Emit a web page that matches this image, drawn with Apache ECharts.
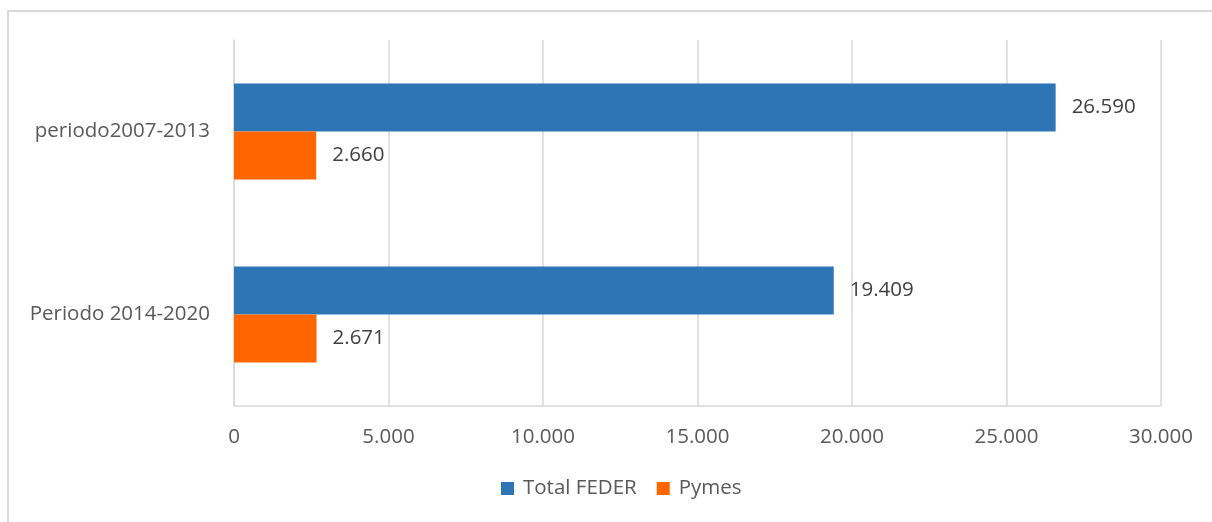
<!DOCTYPE html>
<html>
<head>
<meta charset="utf-8">
<script src="https://cdn.jsdelivr.net/npm/echarts@6/dist/echarts.min.js"></script>
<style>
  html, body { margin: 0; padding: 0; background: #fff; }
  #wrap { position: relative; width: 1212px; height: 522px; }
  #frame { position: absolute; left: 7px; top: 10px; width: 1205px; height: 512px;
           border-left: 2px solid #d9d9d9; border-top: 2px solid #d9d9d9; box-sizing: border-box; }
  #main { position: absolute; left: 0; top: 0; width: 1212px; height: 522px; }
</style>
</head>
<body>
<div id="wrap">
  <div id="frame"></div>
  <div id="main"></div>
</div>
<script>
// categorias (de arriba a abajo)
const periodos = ['periodo2007-2013', 'Periodo 2014-2020'];
const totalFeder = [26590, 19409];
const pymes = [2660, 2671];
const xTicks = [0, 5000, 10000, 15000, 20000, 25000, 30000];

const fmt = v => String(v).replace(/\B(?=(\d{3})+(?!\d))/g, '.');
const font = "'Open Sans', sans-serif";
const fs = 20.5;

let myChart = echarts.init(document.getElementById('main'));
myChart.setOption({
  animation: false,
  textStyle: { fontFamily: font },
  grid: { left: 234, right: 51, top: 40, bottom: 116 },
  legend: {
    data: ['Total FEDER', 'Pymes'],
    bottom: 18,
    left: 496,
    itemWidth: 13,
    itemHeight: 13,
    itemGap: 20,
    icon: 'rect',
    textStyle: { fontSize: fs, color: '#595959', fontFamily: font, padding: [0, 0, 0, 4] }
  },
  xAxis: {
    type: 'value',
    min: xTicks[0],
    max: xTicks[xTicks.length - 1],
    interval: 5000,
    axisLine: { show: true, lineStyle: { color: '#d9d9d9', width: 1.5 } },
    axisTick: { show: false },
    splitLine: { lineStyle: { color: '#d9d9d9', width: 1.5 } },
    axisLabel: { fontSize: fs, color: '#595959', margin: 21, formatter: v => fmt(v) }
  },
  yAxis: {
    type: 'category',
    inverse: true,
    data: periodos,
    axisLine: { show: true, lineStyle: { color: '#d9d9d9', width: 1.5 } },
    axisTick: { show: false },
    axisLabel: { fontSize: fs, color: '#595959', margin: 24 }
  },
  series: [
    {
      name: 'Total FEDER',
      type: 'bar',
      data: totalFeder,
      barGap: '0%',
      barCategoryGap: '47.5%',
      itemStyle: { color: '#2e75b6' },
      label: { show: true, position: 'right', distance: 16, fontSize: fs, color: '#404040', formatter: p => fmt(p.value) }
    },
    {
      name: 'Pymes',
      type: 'bar',
      data: pymes,
      barGap: '0%',
      barCategoryGap: '47.5%',
      itemStyle: { color: '#ff6600' },
      label: { show: true, position: 'right', distance: 16, fontSize: fs, color: '#404040', formatter: p => fmt(p.value) }
    }
  ]
});
</script>
</body>
</html>
